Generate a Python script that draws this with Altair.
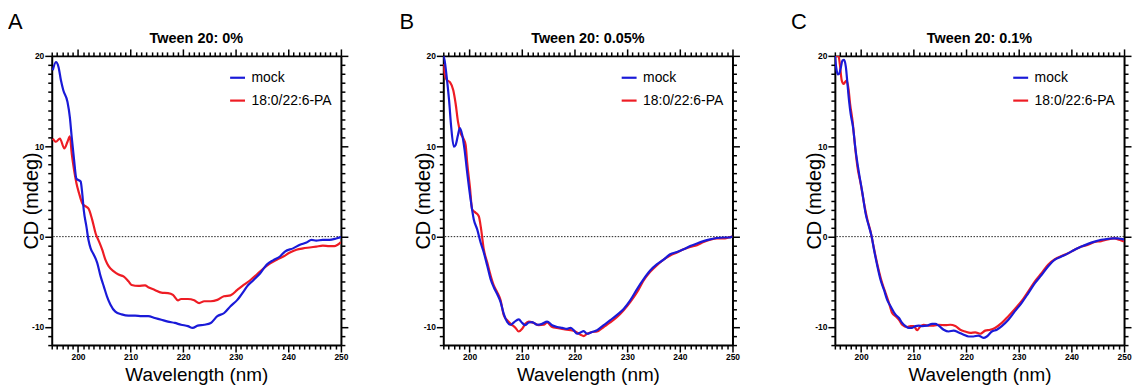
import altair as alt
import pandas as pd

# ---------------- data ----------------
SERIES = ["mock", "18:0/22:6-PA"]
TITLES = ["Tween 20: 0%", "Tween 20: 0.05%", "Tween 20: 0.1%"]
LETTERS = ["A", "B", "C"]
X_TICKS = list(range(195, 251))
Y_TICKS = list(range(-12, 21))

WL_A_MOCK = [
    195.2, 195.8, 196.3, 196.75, 197.2, 198.0, 198.45, 198.8, 199.25, 199.7,
    200.5, 200.8, 201.1, 201.6, 202.0, 202.4, 203.0, 203.65, 204.3, 204.9,
    205.5, 206.15, 207.1, 208.3, 209.6, 210.85, 212.1, 213.35, 214.6, 215.85,
    217.1, 218.4, 219.6, 220.9, 221.8, 222.75, 224.0, 225.25, 226.5, 227.8,
    229.0, 230.3, 231.5, 232.15, 233.4, 234.65, 235.9, 237.15, 238.4, 239.35,
    240.9, 242.2, 243.45, 244.4, 245.3, 246.55, 247.8, 249.1, 250.0]
CD_A_MOCK = [
    18.4, 19.3, 18.75, 17.3, 16.2, 14.9, 13.2, 11.0, 8.5, 6.4,
    6.1, 4.8, 2.9, 1.1, -0.4, -1.3, -2.0, -2.9, -4.4, -5.5,
    -6.6, -7.5, -8.3, -8.6, -8.75, -8.75, -8.8, -8.8, -9.0, -9.2,
    -9.4, -9.55, -9.75, -9.9, -10.1, -9.85, -9.75, -9.55, -8.8, -8.45,
    -7.7, -7.0, -6.05, -5.5, -4.8, -4.05, -3.1, -2.6, -2.2, -1.65,
    -1.3, -0.9, -0.65, -0.35, -0.45, -0.35, -0.35, -0.2, -0.05]

WL_A_PA = [
    195.2, 195.8, 196.55, 197.4, 198.0, 198.45, 198.8, 199.25, 199.7, 200.2,
    200.8, 201.3, 202.0, 202.7, 203.35, 204.0, 204.6, 205.2, 205.85, 206.8,
    207.7, 208.65, 209.6, 210.2, 211.5, 212.75, 213.35, 214.6, 215.85, 217.1,
    218.05, 219.0, 219.6, 220.9, 222.1, 223.05, 224.0, 225.25, 226.5, 227.75,
    229.0, 230.3, 231.5, 232.8, 234.0, 235.3, 236.55, 237.8, 239.05, 240.3,
    241.55, 242.8, 244.05, 245.3, 246.55, 247.8, 248.75, 250.0]
CD_A_PA = [
    10.85, 10.5, 10.85, 9.75, 10.5, 11.1, 9.2, 7.35, 5.9, 4.8,
    3.7, 3.4, 3.1, 1.85, 0.35, -0.55, -1.45, -2.55, -3.3, -3.85,
    -4.2, -4.4, -4.95, -5.35, -5.45, -5.4, -5.6, -5.9, -6.2, -6.25,
    -6.45, -7.05, -6.9, -6.9, -7.05, -7.35, -7.15, -7.15, -7.0, -6.6,
    -6.5, -5.9, -5.35, -4.8, -4.2, -3.5, -2.95, -2.55, -2.2, -1.75,
    -1.45, -1.3, -1.2, -1.1, -1.0, -1.05, -1.05, -0.6]

WL_B_MOCK = [
    195.0, 195.25, 195.65, 196.1, 196.5, 197.0, 197.35, 197.8, 198.15, 198.6,
    199.05, 199.55, 200.2, 200.8, 201.45, 202.1, 202.7, 203.35, 204.0, 204.6,
    205.25, 205.9, 206.5, 207.15, 207.8, 208.4, 209.35, 210.0, 210.6, 211.25,
    211.9, 212.85, 213.8, 214.75, 215.7, 216.65, 217.6, 218.55, 219.2, 219.8,
    220.45, 221.1, 221.7, 222.35, 223.3, 224.25, 225.5, 226.75, 228.05, 229.3,
    230.55, 231.85, 233.1, 234.35, 235.65, 236.9, 238.15, 239.45, 240.7, 241.95,
    243.25, 244.5, 245.75, 247.0, 248.3, 249.25, 250.0]
CD_B_MOCK = [
    20.0, 19.5, 17.65, 15.1, 12.15, 9.95, 10.15, 11.25, 12.0, 11.25,
    9.6, 7.05, 4.1, 1.9, 0.8, -0.65, -1.75, -3.2, -4.7, -5.6,
    -6.35, -7.25, -8.55, -9.45, -9.75, -9.5, -9.15, -9.55, -9.8, -9.5,
    -9.45, -9.75, -9.65, -9.4, -9.8, -10.0, -10.1, -10.2, -10.1, -10.35,
    -10.75, -10.6, -10.45, -10.75, -10.55, -10.35, -9.8, -9.25, -8.65, -8.0,
    -7.05, -5.8, -4.7, -3.75, -3.05, -2.55, -1.95, -1.7, -1.4, -1.05,
    -0.75, -0.5, -0.3, -0.15, -0.1, -0.1, 0.0]

WL_B_PA = [
    195.0, 195.25, 195.65, 196.25, 196.9, 197.35, 197.8, 198.3, 198.8, 199.25,
    199.55, 200.05, 200.5, 201.15, 201.75, 202.2, 202.7, 203.35, 204.0, 204.6,
    205.25, 205.9, 206.5, 207.15, 207.8, 208.75, 209.35, 210.0, 210.6, 211.25,
    212.2, 213.15, 214.1, 214.75, 215.7, 216.65, 217.9, 219.2, 220.1, 221.1,
    221.7, 222.35, 223.3, 224.25, 225.5, 226.75, 228.05, 229.3, 230.55, 231.85,
    233.1, 234.35, 235.65, 236.9, 238.15, 239.45, 240.7, 241.95, 243.25, 244.5,
    245.75, 247.0, 248.3, 249.25, 250.0]
CD_B_PA = [
    19.1, 18.0, 17.35, 17.1, 16.2, 14.7, 12.7, 11.45, 10.9, 10.15,
    8.15, 5.55, 3.0, 2.65, 2.25, 0.8, -1.4, -2.85, -4.3, -5.4,
    -6.15, -7.05, -8.7, -9.25, -9.65, -10.1, -10.5, -10.2, -9.65, -9.4,
    -9.55, -9.8, -9.75, -9.5, -10.0, -10.1, -10.25, -10.35, -10.5, -10.85,
    -11.0, -10.75, -10.55, -10.5, -10.0, -9.5, -8.9, -8.15, -7.25, -6.15,
    -4.85, -3.9, -3.15, -2.55, -2.1, -1.75, -1.4, -1.15, -0.95, -0.6,
    -0.35, -0.2, -0.2, -0.1, 0.0]

WL_C_MOCK = [
    195.0, 195.3, 195.55, 195.8, 196.15, 196.45, 196.75, 197.1, 197.4, 197.7,
    198.0, 198.45, 198.95, 199.6, 200.25, 200.85, 201.5, 202.0, 202.45, 203.1,
    203.7, 204.35, 204.95, 205.6, 206.55, 207.2, 207.8, 208.45, 209.05, 209.7,
    210.35, 210.95, 211.6, 212.55, 213.5, 214.1, 214.75, 215.7, 216.65, 217.6,
    218.55, 219.5, 220.45, 221.35, 222.3, 223.25, 223.9, 224.85, 225.8, 226.75,
    228.0, 229.25, 230.5, 231.8, 233.05, 234.3, 235.55, 236.85, 238.1, 239.35,
    240.6, 241.9, 243.15, 244.4, 245.65, 246.9, 247.85, 248.8, 249.45, 250.0]
CD_C_MOCK = [
    20.0, 18.55, 17.95, 18.0, 18.75, 19.5, 19.55, 18.75, 16.9, 15.05,
    13.6, 12.15, 9.55, 7.0, 4.8, 2.55, 1.1, 0.0, -1.45, -3.3,
    -4.8, -5.9, -7.0, -7.7, -8.65, -9.0, -9.55, -9.9, -10.1, -10.1,
    -9.9, -9.85, -9.9, -9.85, -9.65, -9.65, -9.85, -10.3, -10.5, -10.4,
    -10.6, -10.85, -11.05, -11.05, -10.95, -11.2, -11.05, -10.5, -10.3, -9.9,
    -9.2, -8.25, -7.35, -6.25, -5.15, -4.25, -3.3, -2.55, -2.2, -1.85,
    -1.45, -1.1, -0.8, -0.55, -0.35, -0.25, -0.2, -0.2, -0.25, -0.3]

WL_C_PA = [
    195.2, 195.7, 195.95, 196.3, 196.65, 196.95, 197.25, 197.6, 197.9, 198.35,
    198.85, 199.3, 199.9, 200.55, 201.2, 201.8, 202.25, 202.75, 203.4, 204.0,
    204.65, 205.3, 205.9, 206.55, 207.2, 207.8, 208.75, 209.4, 210.0, 210.65,
    211.3, 211.9, 212.85, 213.8, 214.75, 216.0, 216.95, 217.9, 218.85, 219.8,
    220.75, 221.7, 222.65, 223.6, 224.55, 225.45, 226.75, 228.0, 229.25, 230.5,
    231.8, 233.05, 234.3, 235.55, 236.85, 238.1, 239.35, 240.6, 241.9, 243.15,
    244.4, 245.65, 246.9, 248.15, 249.1, 250.0]
CD_C_PA = [
    20.0, 20.0, 19.1, 17.3, 16.9, 17.1, 17.3, 16.35, 14.7, 12.85,
    9.95, 7.7, 5.9, 3.7, 1.85, 0.55, -0.75, -2.2, -3.85, -5.15,
    -6.25, -7.35, -8.45, -8.8, -9.2, -9.75, -10.0, -9.9, -9.9, -10.35,
    -9.9, -9.75, -9.85, -9.85, -9.75, -9.8, -9.75, -9.9, -10.3, -10.5,
    -10.65, -10.6, -10.75, -10.4, -10.3, -10.1, -9.55, -8.8, -8.0, -7.15,
    -6.05, -4.95, -4.05, -3.1, -2.5, -2.15, -1.85, -1.45, -1.1, -0.9,
    -0.6, -0.5, -0.3, -0.2, -0.35, -0.55]

# ---------------- styling ----------------
FONT = "Liberation Sans"
BLUE = "#1a1ad8"
RED = "#ee1c24"
W, H = 291, 291

MAJOR = "datum.value % 10 === 0"
TICK_SIZE = {"condition": {"test": MAJOR, "value": 7}, "value": 4}

xs = alt.Scale(domain=[195, 250], nice=False, zero=False)
ys = alt.Scale(domain=[-12, 20], nice=False, zero=False)


def axis_common():
    return dict(tickSize=TICK_SIZE, tickWidth=1.5, tickColor="black",
                domainWidth=2, domainColor="black", grid=False,
                labelOverlap=False, labelFlush=False, labelFont=FONT,
                labelFontSize=8.5, labelFontWeight="bold", labelColor="black")


def panel(letter, title, wl_m, cd_m, wl_p, cd_p):
    df_m = pd.DataFrame({"wl": wl_m, "cd": cd_m, "series": SERIES[0]})
    df_p = pd.DataFrame({"wl": wl_p, "cd": cd_p, "series": SERIES[1]})

    x_bottom = alt.X("wl:Q", scale=xs, axis=alt.Axis(
        orient="bottom", values=X_TICKS,
        labelExpr="datum.value % 10 === 0 && datum.value >= 200 ? '' + datum.value : ''",
        labelPadding=1, title="Wavelength (nm)", titleFont=FONT,
        titleFontSize=19, titleFontWeight="normal", titleColor="black",
        titlePadding=4, **axis_common()))
    y_left = alt.Y("cd:Q", scale=ys, axis=alt.Axis(
        orient="left", values=Y_TICKS,
        labelExpr="datum.value % 10 === 0 ? '' + datum.value : ''",
        labelPadding=1, title="CD (mdeg)", titleFont=FONT,
        titleFontSize=20, titleFontWeight="normal", titleColor="black",
        titleAngle=270, titleX=-14, titleY=H / 2, titleAlign="center",
        titleBaseline="alphabetic", **axis_common()))
    x_top = alt.X("wl:Q", scale=xs, axis=alt.Axis(
        orient="top", values=X_TICKS, labels=False, title=None,
        **axis_common()))
    y_right = alt.Y("cd:Q", scale=ys, axis=alt.Axis(
        orient="right", values=Y_TICKS, labels=False, title=None,
        **axis_common()))

    color = alt.Color("series:N", scale=alt.Scale(domain=SERIES, range=[BLUE, RED]),
                      legend=alt.Legend(orient="none", legendX=178, legendY=13,
                                        title=None, symbolType="stroke",
                                        symbolSize=225, symbolStrokeWidth=2.2,
                                        labelFont=FONT, labelFontSize=14,
                                        labelColor="black", labelOffset=5,
                                        rowPadding=7, padding=0))

    zero = alt.Chart(pd.DataFrame({"zero": [0]})).mark_rule(
        strokeDash=[1.5, 1.5], color="#222222", strokeWidth=1
    ).encode(y=alt.Y("zero:Q", scale=ys, axis=None))

    red = alt.Chart(df_p).mark_line(strokeWidth=2.2, interpolate="monotone", clip=True).encode(
        x=alt.X("wl:Q", scale=xs, axis=None),
        y=alt.Y("cd:Q", scale=ys, axis=None),
        color=color)
    blue = alt.Chart(df_m).mark_line(strokeWidth=2.2, interpolate="monotone", clip=True).encode(
        x=x_bottom, y=y_left, color=color)
    frame = alt.Chart(df_m).mark_point(opacity=0).encode(x=x_top, y=y_right)

    tag = alt.Chart(pd.DataFrame({"t": [letter]})).mark_text(
        font=FONT, fontSize=22, align="left", baseline="alphabetic", color="black"
    ).encode(text="t:N", x=alt.value(-44), y=alt.value(-27))

    head = alt.Chart(pd.DataFrame({"t": [title]})).mark_text(
        font=FONT, fontSize=14.5, fontWeight="bold", align="center",
        baseline="alphabetic", color="black"
    ).encode(text="t:N", x=alt.value(W / 2), y=alt.value(-12.5))

    return alt.layer(zero, red, blue, frame, tag, head).properties(
        width=W, height=H
    ).resolve_axis(x="independent", y="independent")


pA = panel(LETTERS[0], TITLES[0], WL_A_MOCK, CD_A_MOCK, WL_A_PA, CD_A_PA)
pB = panel(LETTERS[1], TITLES[1], WL_B_MOCK, CD_B_MOCK, WL_B_PA, CD_B_PA)
pC = panel(LETTERS[2], TITLES[2], WL_C_MOCK, CD_C_MOCK, WL_C_PA, CD_C_PA)

chart = alt.hconcat(pA, pB, pC, spacing=103, bounds="flush").resolve_scale(
    color="independent").resolve_legend(color="independent").properties(
    padding={"top": 2, "left": 0, "right": 0, "bottom": 0},
    background="white").configure_view(stroke=None)

chart.save("out.html", embed_options={"renderer": "svg", "actions": False})
